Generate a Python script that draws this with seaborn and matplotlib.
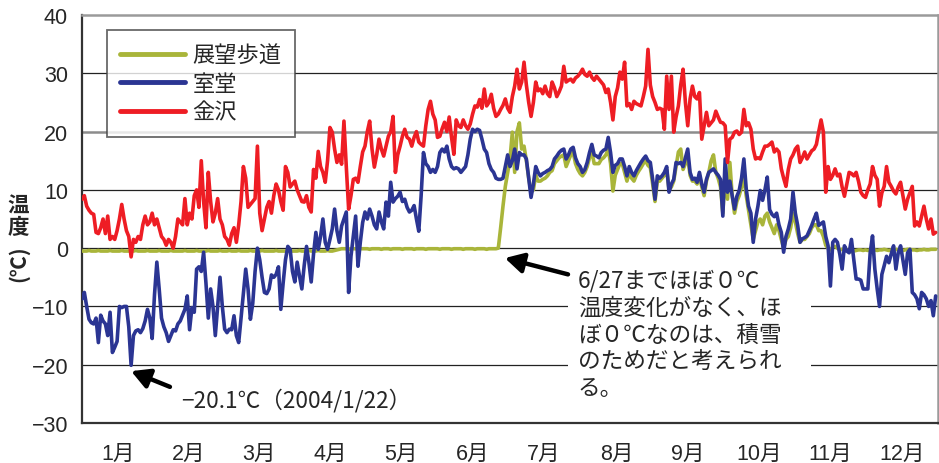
import pandas as pd
import seaborn as sns
import matplotlib.pyplot as plt
import matplotlib.dates as mdates
from matplotlib.patches import Rectangle
from matplotlib.lines import Line2D

# 地点名と色
sites = ['展望歩道', '室堂', '金沢']
colors = ['#A9B53A', '#2B3593', '#EE1D24']
months = ['1月', '2月', '3月', '4月', '5月', '6月', '7月', '8月', '9月', '10月', '11月', '12月']

# 日平均気温 (2004/1/1 - 2004/12/31), 図から読み取り
tenbo = [
    # 1月
    -0.5, -0.5, -0.5, -0.4, -0.5, -0.5, -0.5, -0.4, -0.5, -0.5, -0.5, -0.5, -0.4, -0.5, -0.5, -0.5,
    -0.5, -0.4, -0.5, -0.5, -0.5, -0.5, -0.5, -0.4, -0.5, -0.5, -0.5, -0.5, -0.4, -0.5, -0.5,
    # 2月
    -0.5, -0.5, -0.4, -0.5, -0.5, -0.5, -0.5, -0.4, -0.5, -0.5, -0.5, -0.5, -0.5, -0.4, -0.5,
    -0.5, -0.5, -0.5, -0.4, -0.5, -0.5, -0.5, -0.5, -0.4, -0.5, -0.5, -0.5, -0.5, -0.4,
    # 3月
    -0.5, -0.5, -0.5, -0.4, -0.5, -0.5, -0.5, -0.4, -0.5, -0.5, -0.5, -0.5, -0.4, -0.5, -0.5, -0.5,
    -0.5, -0.4, -0.5, -0.5, -0.5, -0.5, -0.5, -0.4, -0.5, -0.5, -0.5, -0.5, -0.4, -0.5, -0.5,
    # 4月
    -0.5, -0.5, -0.4, -0.5, -0.5, -0.5, -0.4, -0.5, -0.5, -0.5, -0.4, -0.5, -0.5, -0.5, -0.4,
    -0.5, -0.5, -0.4, -0.3, -0.2, -0.1, -0.1, -0.1, -0.2, -0.1, -0.1, -0.1, -0.2, -0.1, -0.1,
    # 5月
    -0.1, -0.1, -0.2, -0.1, -0.1, -0.1, -0.1, -0.2, -0.1, -0.1, -0.1, -0.2, -0.1, -0.1, -0.1, -0.1,
    -0.2, -0.1, -0.1, -0.1, -0.1, -0.2, -0.1, -0.1, -0.1, -0.1, -0.2, -0.1, -0.1, -0.1, -0.1,
    # 6月
    -0.1, -0.2, -0.1, -0.1, -0.1, -0.1, -0.2, -0.1, -0.1, -0.1, -0.1, -0.2, -0.1, -0.1, -0.1,
    -0.1, -0.2, -0.1, -0.1, -0.1, -0.1, -0.2, -0.1, -0.1, -0.1, -0.1, 0.0, 3.5, 7.2, 10.6,
    # 7月
    13.0, 15.3, 19.9, 13.0, 20.0, 21.5, 17.0, 17.5, 15.0, 12.0, 9.6, 10.0, 12.5, 11.5, 11.5, 11.8,
    12.0, 12.4, 13.0, 13.3, 14.5, 15.0, 15.5, 15.8, 16.0, 14.0, 15.0, 16.0, 16.5, 14.5, 13.5,
    # 8月
    12.8, 12.4, 13.0, 14.0, 15.5, 16.5, 14.5, 14.5, 14.5, 15.2, 15.5, 16.0, 17.0, 14.5, 9.8, 12.5,
    13.5, 14.5, 14.5, 13.0, 11.5, 13.0, 12.0, 11.5, 12.5, 13.2, 13.8, 14.5, 15.0, 14.2, 13.8,
    # 9月
    11.0, 8.0, 11.5, 11.5, 12.0, 12.5, 13.5, 10.0, 10.5, 11.5, 14.0, 16.5, 17.0, 13.5, 14.5,
    15.5, 12.5, 11.5, 11.5, 11.0, 12.5, 10.5, 9.0, 11.5, 13.0, 15.0, 16.0, 13.0, 12.0, 10.5,
    # 10月
    6.0, 13.0, 8.4, 14.7, 9.0, 6.0, 8.0, 9.0, 10.5, 12.0, 9.0, 6.5, 4.0, 1.5, 3.0, 4.5,
    5.0, 4.0, 5.5, 6.0, 4.5, 3.5, 2.5, 4.0, 3.0, 1.5, 0.0, 1.5, 2.0, 3.5, 6.0,
    # 11月
    4.5, 2.5, 1.0, 1.5, 1.5, 2.0, 2.5, 3.5, 4.0, 4.0, 3.0, 3.0, 2.0, 0.5, 0.0,
    -0.3, 0.2, 0.3, 0.0, -0.3, -0.2, -0.1, -0.3, -0.5, -0.6, -0.5, -0.4, -0.3, -0.3, -0.4,
    # 12月
    -0.3, -0.4, -0.3, -0.2, -0.3, -0.4, -0.3, -0.3, -0.2, -0.3, -0.4, -0.3, -0.3, -0.2, -0.3, -0.3,
    -0.4, -0.3, -0.2, -0.2, -0.3, -0.3, -0.4, -0.3, -0.3, -0.2, -0.3, -0.3, -0.2, -0.2, -0.2,
]

murodo = [
    # 1月
    -8.7, -7.6, -10.0, -12.2, -12.8, -13.0, -12.0, -16.2, -11.5, -12.5, -13.0, -15.0, -11.0, -17.9, -17.0, -16.0,
    -10.0, -10.2, -10.0, -10.0, -13.5, -20.1, -15.0, -14.2, -14.0, -14.5, -13.8, -12.5, -10.5, -12.0, -15.5,
    # 2月
    -8.0, -2.4, -7.0, -12.0, -13.5, -14.5, -16.0, -15.0, -14.0, -14.2, -13.0, -12.5, -11.5, -10.5, -8.2,
    -14.0, -10.2, -11.0, -3.6, -3.2, -4.0, -0.7, -6.0, -12.0, -7.0, -10.0, -15.0, -10.0, -5.0,
    # 3月
    -10.0, -13.9, -14.5, -13.9, -14.0, -11.6, -15.0, -16.2, -12.0, -8.0, -3.6, -7.0, -12.2, -9.5, -4.0, 0.0,
    -2.0, -5.0, -7.6, -7.8, -7.0, -4.6, -5.0, -4.5, -3.2, -10.5, -6.0, -2.0, 0.3, -0.2, -4.0,
    # 4月
    -5.8, -2.4, -4.8, -7.0, -3.0, 0.3, -2.4, -5.8, -1.0, 2.7, -0.2, 2.0, 5.0, 1.0, -0.2,
    1.5, 3.3, 6.7, 3.0, 1.0, 3.8, 5.0, 6.2, -7.6, -1.4, 2.0, 5.5, -3.1, 1.0, 4.4,
    # 5月
    6.2, 5.0, 6.7, 5.5, 4.0, 3.3, 6.2, 4.5, 3.3, 7.9, 5.5, 11.3, 7.9, 8.5, 8.9, 9.6,
    8.0, 8.4, 7.0, 6.2, 6.5, 7.3, 5.0, 2.9, 9.0, 16.4, 14.5, 14.0, 13.0, 13.5, 13.0,
    # 6月
    14.0, 16.4, 17.0, 16.5, 17.5, 15.3, 14.0, 13.6, 13.8, 13.6, 13.0, 13.5, 14.0, 16.0, 18.7,
    20.4, 20.0, 20.4, 20.2, 18.7, 17.0, 16.4, 14.5, 13.5, 13.0, 12.0, 11.8, 11.8, 12.0, 14.0,
    # 7月
    16.0, 14.0, 15.0, 17.0, 13.6, 16.4, 16.0, 16.0, 15.3, 12.0, 8.7, 11.0, 14.0, 13.0, 12.4, 12.8,
    13.0, 13.3, 13.5, 14.0, 15.3, 15.8, 16.4, 16.8, 17.0, 15.3, 16.0, 17.0, 17.3, 15.5, 14.5,
    # 8月
    14.0, 13.0, 13.5, 14.7, 16.4, 17.8, 16.0, 15.8, 15.5, 16.4, 16.8, 17.0, 19.0, 16.4, 13.0, 14.2,
    14.5, 15.3, 15.3, 14.0, 12.4, 14.0, 13.0, 12.4, 13.3, 14.0, 14.7, 15.3, 15.8, 15.0, 14.7,
    # 9月
    11.8, 8.4, 12.4, 12.0, 12.4, 13.0, 14.0, 9.6, 11.0, 11.8, 14.7, 14.5, 14.7, 14.0, 15.5,
    17.0, 13.0, 11.8, 12.0, 11.3, 13.0, 11.0, 9.6, 11.8, 13.0, 13.3, 13.6, 13.0, 12.5, 11.8,
    # 10月
    5.5, 15.3, 9.6, 11.5, 9.0, 6.7, 8.9, 9.9, 12.0, 15.3, 10.2, 7.2, 6.0, 1.0, 5.0, 7.2,
    9.9, 8.2, 10.0, 12.2, 6.6, 5.8, 5.4, 6.0, 4.0, 2.7, -0.7, 2.0, 3.3, 5.0, 9.6,
    # 11月
    6.0, 3.9, 1.0, 1.6, 1.8, 2.1, 3.0, 3.9, 5.0, 6.0, 3.9, 4.2, 4.5, 2.0, 0.4,
    -6.5, 1.0, 1.5, 1.0, -1.0, -3.6, 0.4, -0.5, -0.8, 1.5, -2.0, -5.3, -5.3, -5.5, -7.0,
    # 12月
    -7.0, -7.0, -0.8, 2.1, -3.6, -7.0, -10.0, -4.5, -3.0, -1.4, -2.5, -1.0, 0.4, -3.6, -0.8, 0.4,
    -2.0, -4.5, -0.8, -0.2, -7.6, -8.0, -8.7, -10.4, -7.6, -8.0, -8.7, -10.0, -9.0, -11.6, -8.2,
]

kanazawa = [
    # 1月
    8.4, 9.0, 7.2, 6.5, 6.0, 5.8, 2.7, 2.5, 3.5, 5.0, 2.5, 5.5, 1.5, 2.0, 1.5, 3.0,
    5.0, 7.5, 5.0, 3.0, 2.0, -1.5, 1.5, 1.0, 2.0, 1.5, 4.0, 5.5, 4.0, 4.5, 6.0,
    # 2月
    4.0, 5.0, 3.5, 2.0, 1.5, 0.5, 1.5, 1.0, 0.0, 2.0, 5.0, 4.5, 4.0, 8.5, 4.0,
    6.0, 5.0, 9.0, 10.0, 7.0, 15.0, 8.0, 3.5, 13.0, 8.0, 4.5, 6.0, 8.5, 5.0,
    # 3月
    4.0, 2.0, 1.5, 0.5, 2.5, 3.5, 1.0, 4.0, 8.0, 14.0, 12.0, 7.0, 7.5, 8.0, 8.5, 17.5,
    6.0, 3.0, 5.0, 7.0, 8.0, 6.0, 9.0, 11.0, 10.0, 8.0, 6.5, 14.0, 13.0, 10.5, 11.0,
    # 4月
    11.5, 10.0, 9.0, 8.0, 7.9, 9.0, 7.0, 6.2, 13.5, 12.0, 16.6, 14.0, 13.0, 11.3, 15.0,
    20.7, 19.9, 17.0, 14.7, 16.0, 14.4, 21.8, 14.0, 6.7, 9.0, 11.8, 12.0, 11.3, 14.0, 16.5,
    # 5月
    17.5, 20.0, 21.8, 17.0, 13.9, 16.0, 18.7, 17.0, 15.8, 17.5, 19.2, 20.0, 22.6, 13.0, 16.0, 17.5,
    19.2, 20.4, 19.0, 18.7, 17.5, 19.0, 20.0, 18.2, 17.8, 17.5, 21.0, 23.8, 25.2, 23.0, 22.0,
    # 6月
    19.0, 19.2, 20.5, 21.6, 20.0, 22.5, 19.0, 16.1, 22.0, 21.0, 20.7, 22.0, 21.0, 20.4, 21.3,
    23.0, 24.4, 24.2, 25.5, 24.0, 27.3, 24.4, 25.0, 26.4, 24.0, 22.6, 23.0, 23.8, 24.5, 25.6,
    # 7月
    24.0, 23.3, 26.0, 27.8, 30.7, 27.3, 28.5, 31.9, 28.0, 25.0, 22.6, 25.0, 28.5, 27.0, 27.3, 26.5,
    27.8, 26.5, 26.0, 28.5, 27.5, 26.0, 26.8, 27.8, 31.2, 28.5, 28.8, 29.0, 28.5, 29.2, 29.5,
    # 8月
    30.0, 30.7, 29.8, 29.5, 30.2, 29.3, 28.8, 29.5, 29.0, 28.5, 28.0, 26.7, 27.3, 25.0, 22.0, 26.0,
    27.5, 30.2, 29.0, 31.9, 24.4, 24.8, 23.8, 25.2, 24.8, 24.6, 24.4, 26.0, 27.8, 34.1, 28.0,
    # 9月
    26.0, 25.0, 23.8, 24.0, 23.8, 20.4, 29.5, 23.8, 29.5, 19.9, 22.5, 24.4, 28.0, 30.7, 25.0,
    21.0, 25.6, 27.8, 26.0, 25.6, 26.7, 18.7, 21.0, 23.3, 21.0, 21.5, 22.0, 23.5, 22.5, 21.6,
    # 10月
    21.5, 21.0, 14.7, 18.7, 19.0, 19.9, 20.1, 19.5, 19.9, 23.8, 21.0, 21.5, 20.4, 17.0, 15.3, 15.5,
    15.3, 16.5, 17.5, 17.5, 17.8, 18.2, 16.5, 17.0, 16.5, 13.6, 12.0, 10.6, 13.5, 15.3, 16.0,
    # 11月
    17.0, 17.5, 14.7, 15.5, 16.5, 15.3, 16.0, 16.7, 17.0, 17.8, 20.0, 22.0, 19.9, 9.6, 14.0,
    11.8, 12.5, 13.6, 12.4, 12.7, 10.5, 8.9, 11.0, 13.0, 12.8, 12.4, 13.0, 11.5, 9.6, 9.0,
    # 12月
    8.7, 10.0, 11.0, 14.0, 12.5, 11.8, 7.2, 9.5, 10.6, 14.0, 11.3, 10.6, 9.8, 9.3, 10.5, 11.3,
    9.0, 6.7, 8.4, 9.5, 10.6, 3.8, 4.5, 3.8, 5.5, 7.2, 5.0, 3.3, 5.0, 2.4, 2.7,
]

# 縦長データに変換
frames = []
for name, vals in zip(sites, [tenbo, murodo, kanazawa]):
    frames.append(pd.DataFrame({
        '日付': pd.date_range('2004-01-01', periods=len(vals), freq='D'),
        '気温': vals,
        '地点': name,
    }))
df = pd.concat(frames, ignore_index=True)

sns.set_style('white')
plt.rcParams['font.family'] = ['Liberation Sans', 'Noto Sans CJK JP']
plt.rcParams['axes.unicode_minus'] = True
jp = ['Noto Sans CJK JP', 'DejaVu Sans']

fig = plt.figure(figsize=(9.39, 4.64), dpi=100)
ax = fig.add_axes([82 / 939, 40 / 464, 856 / 939, 408 / 464])

# 目盛線
for v in [30, 10, 0, -10, -20]:
    ax.axhline(v, color='#222222', lw=0.9, zorder=1)
ax.axhline(20, color='#8c8c8c', lw=1.8, zorder=1)

sns.lineplot(data=df, x='日付', y='気温', hue='地点', hue_order=sites,
             palette=dict(zip(sites, colors)), linewidth=2.6, ax=ax,
             legend=False, zorder=3)

t0 = mdates.date2num(pd.Timestamp('2004-01-01'))

# 注記の背景 (目盛線を隠す)
ax.add_patch(Rectangle((t0 + 207.8, -29.7), 103.9, 25.1, facecolor='white',
                       edgecolor='none', zorder=2))

ax.set_xlim(t0, t0 + 366)
ax.set_ylim(-30, 40)
ax.set_yticks(range(-30, 41, 10))
ax.tick_params(axis='y', length=0, pad=10, labelsize=15.5)

# 月境界の目盛と月ラベル
starts = pd.date_range('2004-01-01', periods=13, freq='MS')
mids = [mdates.date2num(a) + (mdates.date2num(b) - mdates.date2num(a)) / 2
        for a, b in zip(starts[:-1], starts[1:])]
ax.set_xticks(mids)
ax.set_xticklabels(months)
ax.set_xticks([mdates.date2num(s) for s in starts[1:-1]], minor=True)
ax.tick_params(axis='x', which='major', length=0, pad=14, labelsize=15.5)
ax.tick_params(axis='x', which='minor', length=6, width=1.2, direction='in', color='#333333')
ax.set_xlabel('')
ax.set_ylabel('')

for s in ['top', 'right']:
    ax.spines[s].set_color('#9a9a9a')
    ax.spines[s].set_linewidth(1.8)
for s in ['left', 'bottom']:
    ax.spines[s].set_color('#333333')
    ax.spines[s].set_linewidth(1.6)

# 凡例
handles = [Line2D([0], [0], color=c, lw=3.5) for c in colors]
leg = ax.legend(handles, sites, loc='upper left', bbox_to_anchor=(0.029, 0.963),
                borderaxespad=0, frameon=True, fancybox=False, edgecolor='#444444',
                prop={'family': jp, 'size': 16}, handlelength=2.9,
                handletextpad=0.35, labelspacing=0.25, borderpad=0.6)
leg.get_frame().set_linewidth(1.3)
leg.set_zorder(5)

# 縦軸ラベル
fig.text(18 / 939, 1 - 217 / 464, '温\n度', ha='center', va='center', fontsize=15.5,
         fontweight='bold', family=jp, linespacing=1.0)
fig.text(18 / 939, 1 - 264 / 464, '(℃)', ha='center', va='center', fontsize=15,
         fontweight='bold', family=jp, rotation=90)

# 注記
arrow = dict(arrowstyle='-|>,head_length=1.1,head_width=0.6', color='black',
             lw=3.2, shrinkA=0, shrinkB=0)
ax.annotate('', xy=(t0 + 21.0, -21.1), xytext=(t0 + 37.6, -23.8), arrowprops=arrow, zorder=6)
ax.text(t0 + 42.5, -25.9, '−20.1℃（2004/1/22）', ha='left', va='center',
        fontsize=16.3, family=jp, zorder=6)

ax.annotate('', xy=(t0 + 180.8, -1.7), xytext=(t0 + 207.8, -4.5), arrowprops=arrow, zorder=6)
ax.text(t0 + 212.0, -3.5,
        '6/27までほぼ０℃\n温度変化がなく、ほ\nぼ０℃なのは、積雪\nのためだと考えられ\nる。',
        ha='left', va='top', fontsize=16.3, family=jp, linespacing=1.22, zorder=6)

fig.savefig('out.png', dpi=100)
